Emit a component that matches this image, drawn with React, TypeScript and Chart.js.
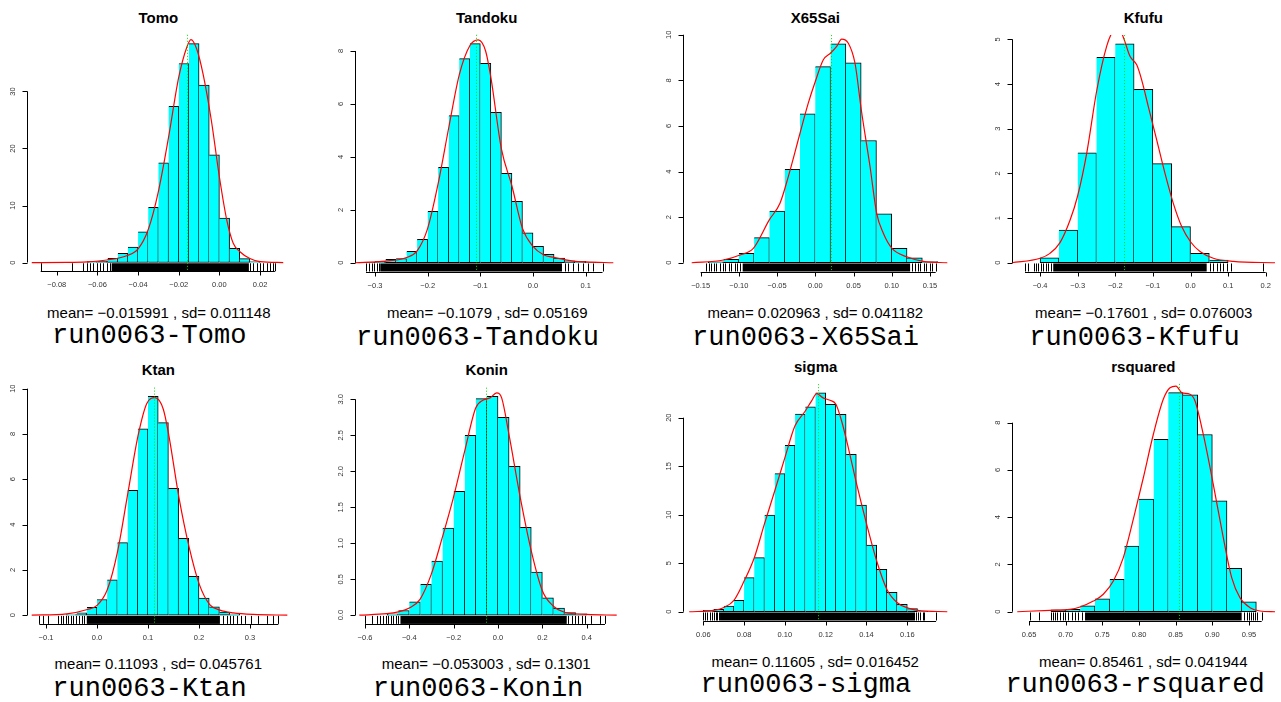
import React, { useEffect, useRef } from 'react';
import { Chart, registerables } from 'chart.js';

Chart.register(...registerables);

// ---------------- Tomo ----------------
const tomoBreaks = [-0.065, -0.06, -0.055, -0.05, -0.045, -0.04, -0.035, -0.03, -0.025, -0.02, -0.015, -0.01, -0.005, 0, 0.005, 0.01, 0.015, 0.02];
const tomoDensity = [0.15, 0.2, 0.75, 1.6, 2.7, 5.4, 9.7, 17.5, 27.4, 34.9, 38.4, 31.1, 18.9, 7.8, 2.5, 0.7, 0.15];
const tomoKdeX = [-0.0923, -0.075, -0.065, -0.0554, -0.0456, -0.04, -0.035, -0.03, -0.025, -0.02, -0.016, -0.014, -0.0112, -0.008, -0.004, 0, 0.0036, 0.0068, 0.0101, 0.015, 0.02, 0.0314];
const tomoKdeY = [0, 0.02, 0.12, 0.45, 1.2, 2.4, 5.8, 12.5, 22, 32.5, 37.8, 39.1, 37.5, 33, 25, 15, 7.5, 3.4, 1.9, 0.7, 0.15, 0];
const tomoRugDense = [-0.053, 0.0145];
const tomoRugTicks = [-0.0879, -0.0727, -0.0669, -0.0653, -0.0636, -0.062, -0.0604, -0.0587, -0.0571, -0.0554, -0.0538, 0.0151, 0.0167, 0.0183, 0.0199, 0.0216, 0.0236, 0.0249, 0.0265, 0.0273];
const tomoXTicks = [-0.08, -0.06, -0.04, -0.02, 0, 0.02];
const tomoXLabels = ['−0.08', '−0.06', '−0.04', '−0.02', '0.00', '0.02'];
const tomoYTicks = [0, 10, 20, 30];
const tomoYLabels = ['0', '10', '20', '30'];
const tomoMean = -0.015991;
const tomoSd = 0.011148;

// ---------------- Tandoku ----------------
const tandokuBreaks = [-0.32, -0.3, -0.28, -0.26, -0.24, -0.22, -0.2, -0.18, -0.16, -0.14, -0.12, -0.1, -0.08, -0.06, -0.04, -0.02, 0, 0.02, 0.04, 0.06, 0.08, 0.1, 0.12];
const tandokuDensity = [0.02, 0.05, 0.13, 0.16, 0.43, 0.88, 1.94, 3.6, 5.56, 7.71, 8.28, 7.53, 5.68, 3.38, 2.32, 1.13, 0.62, 0.32, 0.18, 0.07, 0.05, 0.02];
const tandokuKdeX = [-0.338, -0.28, -0.24, -0.22, -0.2, -0.18, -0.16, -0.14, -0.12, -0.104, -0.09, -0.08, -0.06, -0.04, -0.02, 0, 0.02, 0.04, 0.06, 0.08, 0.1, 0.1525];
const tandokuKdeY = [0, 0.06, 0.2, 0.45, 1.3, 3.0, 5.1, 7.1, 8.2, 8.42, 8.0, 7.0, 4.3, 2.9, 1.3, 0.62, 0.3, 0.2, 0.12, 0.05, 0.03, 0];
const tandokuRugDense = [-0.29, 0.055];
const tandokuRugTicks = [-0.3171, -0.3108, -0.3063, -0.3019, -0.2968, -0.2918, 0.0608, 0.067, 0.0765, 0.086, 0.0955, 0.105, 0.1145, 0.132];
const tandokuXTicks = [-0.3, -0.2, -0.1, 0, 0.1];
const tandokuXLabels = ['−0.3', '−0.2', '−0.1', '0.0', '0.1'];
const tandokuYTicks = [0, 2, 4, 6, 8];
const tandokuYLabels = ['0', '2', '4', '6', '8'];
const tandokuMean = -0.1079;
const tandokuSd = 0.05169;

// ---------------- X65Sai ----------------
const x65Breaks = [-0.14, -0.12, -0.1, -0.08, -0.06, -0.04, -0.02, 0, 0.02, 0.04, 0.06, 0.08, 0.1, 0.12, 0.14, 0.16];
const x65Density = [0.04, 0.15, 0.41, 1.1, 2.27, 4.1, 6.53, 8.6, 9.6, 8.77, 5.36, 2.14, 0.63, 0.22, 0.05];
const x65KdeX = [-0.1617, -0.1203, -0.0985, -0.0811, -0.0602, -0.0462, -0.0353, -0.02, -0.0092, 0, 0.0105, 0.0201, 0.028, 0.0345, 0.0432, 0.0519, 0.0602, 0.0716, 0.0803, 0.089, 0.1003, 0.1196, 0.1413, 0.1727];
const x65KdeY = [0, 0.12, 0.34, 0.63, 1.88, 2.61, 3.78, 5.68, 7.0, 7.95, 8.9, 9.2, 9.49, 9.81, 9.63, 8.76, 6.7, 4.22, 2.17, 1.29, 0.63, 0.26, 0.06, 0];
const x65RugDense = [-0.095, 0.124];
const x65RugTicks = [-0.1434, -0.1392, -0.1368, -0.1321, -0.1297, -0.1243, -0.1207, -0.1181, -0.1135, -0.1098, -0.1052, -0.1019, -0.0984, 0.1268, 0.1302, 0.1339, 0.1371, 0.1418, 0.1446, 0.1497, 0.1528, 0.1575];
const x65XTicks = [-0.15, -0.1, -0.05, 0, 0.05, 0.1, 0.15];
const x65XLabels = ['−0.15', '−0.10', '−0.05', '0.00', '0.05', '0.10', '0.15'];
const x65YTicks = [0, 2, 4, 6, 8, 10];
const x65YLabels = ['0', '2', '4', '6', '8', '10'];
const x65Mean = 0.020963;
const x65Sd = 0.041182;

// ---------------- Kfufu ----------------
const kfufuBreaks = [-0.4, -0.35, -0.3, -0.25, -0.2, -0.15, -0.1, -0.05, 0, 0.05, 0.1];
const kfufuDensity = [0.11, 0.73, 2.46, 4.6, 4.9, 3.88, 2.22, 0.81, 0.21, 0.06];
const kfufuKdeX = [-0.4754, -0.4, -0.3736, -0.347, -0.3204, -0.3, -0.276, -0.2494, -0.2228, -0.205, -0.192, -0.1787, -0.1609, -0.143, -0.1297, -0.112, -0.0899, -0.0678, -0.0457, -0.0234, 0, 0.0253, 0.0607, 0.114, 0.2247];
const kfufuKdeY = [0, 0.1, 0.21, 0.45, 0.95, 1.5, 2.45, 3.85, 4.85, 5.2, 5.25, 5.05, 4.62, 4.43, 4.09, 3.49, 2.75, 2.0, 1.33, 0.81, 0.47, 0.25, 0.1, 0.03, 0];
const kfufuRugDense = [-0.365, 0.043];
const kfufuRugTicks = [-0.44, -0.431, -0.416, -0.411, -0.405, -0.398, -0.391, -0.384, -0.378, -0.372, 0.052, 0.061, 0.07, 0.078, 0.087, 0.096, 0.107, 0.194];
const kfufuXTicks = [-0.4, -0.3, -0.2, -0.1, 0, 0.1, 0.2];
const kfufuXLabels = ['−0.4', '−0.3', '−0.2', '−0.1', '0.0', '0.1', '0.2'];
const kfufuYTicks = [0, 1, 2, 3, 4, 5];
const kfufuYLabels = ['0', '1', '2', '3', '4', '5'];
const kfufuMean = -0.17601;
const kfufuSd = 0.076003;

// ---------------- Ktan ----------------
const ktanBreaks = [-0.06, -0.04, -0.02, 0, 0.02, 0.04, 0.06, 0.08, 0.1, 0.12, 0.14, 0.16, 0.18, 0.2, 0.22, 0.24, 0.26, 0.28];
const ktanDensity = [0.03, 0.1, 0.35, 0.69, 1.56, 3.2, 5.51, 8.23, 9.66, 8.5, 5.6, 3.39, 1.71, 0.75, 0.37, 0.13, 0.05];
const ktanKdeX = [-0.128, -0.0595, -0.019, 0.0007, 0.0203, 0.0405, 0.0601, 0.0804, 0.0974, 0.1137, 0.13, 0.1405, 0.1608, 0.181, 0.2006, 0.221, 0.2412, 0.2673, 0.3065, 0.3732];
const ktanKdeY = [0, 0.06, 0.25, 0.44, 1.13, 2.83, 5.33, 7.91, 9.33, 9.6, 9.09, 7.98, 5.18, 2.97, 1.36, 0.47, 0.22, 0.1, 0.03, 0];
const ktanRugDense = [-0.02, 0.241];
const ktanRugTicks = [-0.1131, -0.1065, -0.0955, -0.0759, -0.0712, -0.0661, -0.0608, -0.0563, -0.0516, -0.0465, -0.0412, -0.0359, -0.03, -0.0255, 0.2477, 0.2543, 0.2608, 0.2673, 0.2751, 0.2818, 0.2902, 0.3014, 0.3163, 0.3327, 0.3457, 0.3556];
const ktanXTicks = [-0.1, 0, 0.1, 0.2, 0.3];
const ktanXLabels = ['−0.1', '0.0', '0.1', '0.2', '0.3'];
const ktanYTicks = [0, 2, 4, 6, 8, 10];
const ktanYLabels = ['0', '2', '4', '6', '8', '10'];
const ktanMean = 0.11093;
const ktanSd = 0.045761;

// ---------------- Konin ----------------
const koninBreaks = [-0.5, -0.45, -0.4, -0.35, -0.3, -0.25, -0.2, -0.15, -0.1, -0.05, 0, 0.05, 0.1, 0.15, 0.2, 0.25, 0.3, 0.35, 0.4];
const koninDensity = [0.02, 0.065, 0.185, 0.43, 0.75, 1.21, 1.72, 2.5, 3.01, 3.04, 2.75, 2.07, 1.22, 0.6, 0.24, 0.1, 0.035, 0.02];
const koninKdeX = [-0.6256, -0.502, -0.4497, -0.4, -0.3518, -0.3008, -0.2512, -0.2015, -0.1503, -0.1006, -0.0662, -0.0361, -0.006, 0.0165, 0.0496, 0.1007, 0.1503, 0.2, 0.2496, 0.3, 0.4, 0.5354];
const koninKdeY = [0, 0.02, 0.046, 0.1, 0.22, 0.57, 1.08, 1.63, 2.28, 2.88, 2.99, 3.02, 3.09, 3.02, 2.51, 1.63, 0.89, 0.34, 0.125, 0.04, 0.01, 0];
const koninRugDense = [-0.44, 0.31];
const koninRugTicks = [-0.6, -0.5697, -0.5472, -0.5322, -0.5172, -0.5052, -0.4948, -0.4839, -0.4722, -0.4601, -0.4497, 0.3172, 0.3323, 0.3473, 0.3623, 0.3773, 0.3924, 0.418, 0.46, 0.4826];
const koninXTicks = [-0.6, -0.4, -0.2, 0, 0.2, 0.4];
const koninXLabels = ['−0.6', '−0.4', '−0.2', '0.0', '0.2', '0.4'];
const koninYTicks = [0, 0.5, 1, 1.5, 2, 2.5, 3];
const koninYLabels = ['0.0', '0.5', '1.0', '1.5', '2.0', '2.5', '3.0'];
const koninMean = -0.053003;
const koninSd = 0.1301;

// ---------------- sigma ----------------
const sigmaBreaks = [0.06, 0.065, 0.07, 0.075, 0.08, 0.085, 0.09, 0.095, 0.1, 0.105, 0.11, 0.115, 0.12, 0.125, 0.13, 0.135, 0.14, 0.145, 0.15, 0.155, 0.16, 0.165, 0.17];
const sigmaDensity = [0.14, 0.24, 0.59, 1.17, 3.51, 5.57, 9.97, 14.23, 17.15, 20.38, 21.13, 22.55, 21.38, 20.35, 16.23, 11.0, 6.88, 4.37, 2.0, 0.76, 0.32, 0.05];
const sigmaKdeX = [0.0531, 0.0649, 0.0698, 0.075, 0.08, 0.085, 0.0899, 0.095, 0.1, 0.1049, 0.11, 0.1131, 0.1156, 0.1185, 0.1221, 0.125, 0.1278, 0.1311, 0.135, 0.1401, 0.145, 0.15, 0.1551, 0.16, 0.1651, 0.1796];
const sigmaKdeY = [0, 0.14, 0.41, 1.17, 3.16, 5.57, 9.0, 12.44, 15.88, 19.14, 20.69, 21.73, 22.48, 22.07, 21.79, 21.38, 19.66, 16.9, 13.3, 9.0, 5.23, 2.3, 0.93, 0.41, 0.14, 0];
const sigmaRugDense = [0.0682, 0.1638];
const sigmaRugTicks = [0.06, 0.0608, 0.0617, 0.0633, 0.0641, 0.0652, 0.0662, 0.0669, 0.0675, 0.1643, 0.1654, 0.1662, 0.1675, 0.1682, 0.1741];
const sigmaXTicks = [0.06, 0.08, 0.1, 0.12, 0.14, 0.16];
const sigmaXLabels = ['0.06', '0.08', '0.10', '0.12', '0.14', '0.16'];
const sigmaYTicks = [0, 5, 10, 15, 20];
const sigmaYLabels = ['0', '5', '10', '15', '20'];
const sigmaMean = 0.11605;
const sigmaSd = 0.016452;

// ---------------- rsquared ----------------
const rsqBreaks = [0.68, 0.7, 0.72, 0.74, 0.76, 0.78, 0.8, 0.82, 0.84, 0.86, 0.88, 0.9, 0.92, 0.94, 0.96];
const rsqDensity = [0.085, 0.1, 0.25, 0.55, 1.37, 2.78, 4.77, 7.3, 9.27, 9.18, 7.5, 4.69, 1.84, 0.42];
const rsqKdeX = [0.634, 0.6786, 0.7059, 0.7195, 0.7377, 0.7513, 0.765, 0.7786, 0.7922, 0.8059, 0.8195, 0.8331, 0.8423, 0.8505, 0.8582, 0.8695, 0.8764, 0.8877, 0.9013, 0.915, 0.9264, 0.9377, 0.9514, 0.965, 0.9855];
const rsqKdeY = [0, 0.06, 0.1, 0.2, 0.45, 0.74, 1.3, 2.29, 3.91, 5.67, 7.5, 8.99, 9.48, 9.55, 9.27, 9.2, 8.92, 7.5, 5.39, 3.13, 1.44, 0.59, 0.17, 0.03, 0];
const rsqRugDense = [0.7264, 0.94];
const rsqRugTicks = [0.6514, 0.664, 0.6796, 0.6823, 0.6855, 0.6886, 0.6923, 0.6959, 0.6995, 0.7036, 0.7082, 0.7127, 0.7173, 0.7218, 0.9432, 0.9469, 0.9496, 0.9523, 0.955, 0.9582, 0.9613, 0.9673];
const rsqXTicks = [0.65, 0.7, 0.75, 0.8, 0.85, 0.9, 0.95];
const rsqXLabels = ['0.65', '0.70', '0.75', '0.80', '0.85', '0.90', '0.95'];
const rsqYTicks = [0, 2, 4, 6, 8];
const rsqYLabels = ['0', '2', '4', '6', '8'];
const rsqMean = 0.85461;
const rsqSd = 0.041944;

const RUN_PREFIX = 'run0063-';

type Panel = {
  name: string;
  breaks: number[];
  dens: number[];
  kdeX: number[];
  kdeY: number[];
  rugDense: number[];
  rugTicks: number[];
  xTicks: number[];
  xLabels: string[];
  yTicks: number[];
  yLabels: string[];
  mean: number;
  sd: number;
  axisX: number;
  top: number;
  bottom: number;
  xMin: number;
  xMax: number;
  titleX: number;
  titleY: number;
  meanX: number;
  meanY: number;
  runX: number;
  runY: number;
};

const PANELS: Panel[] = [
  { name: 'Tomo', breaks: tomoBreaks, dens: tomoDensity, kdeX: tomoKdeX, kdeY: tomoKdeY, rugDense: tomoRugDense, rugTicks: tomoRugTicks, xTicks: tomoXTicks, xLabels: tomoXLabels, yTicks: tomoYTicks, yLabels: tomoYLabels, mean: tomoMean, sd: tomoSd,
    axisX: 26.7, top: 34.8, bottom: 271.3, xMin: -0.09479, xMax: 0.04048, titleX: 158.3, titleY: 16.7, meanX: 158.8, meanY: 311.7, runX: 149.2, runY: 336 },
  { name: 'Tandoku', breaks: tandokuBreaks, dens: tandokuDensity, kdeX: tandokuKdeX, kdeY: tandokuKdeY, rugDense: tandokuRugDense, rugTicks: tandokuRugTicks, xTicks: tandokuXTicks, xLabels: tandokuXLabels, yTicks: tandokuYTicks, yLabels: tandokuYLabels, mean: tandokuMean, sd: tandokuSd,
    axisX: 355, top: 34.8, bottom: 271.5, xMin: -0.33795, xMax: 0.18417, titleX: 486.7, titleY: 16.7, meanX: 487.2, meanY: 311.7, runX: 477.5, runY: 337.5 },
  { name: 'X65Sai', breaks: x65Breaks, dens: x65Density, kdeX: x65KdeX, kdeY: x65KdeY, rugDense: x65RugDense, rugTicks: x65RugTicks, xTicks: x65XTicks, xLabels: x65XLabels, yTicks: x65YTicks, yLabels: x65YLabels, mean: x65Mean, sd: x65Sd,
    axisX: 682.7, top: 35.1, bottom: 271.5, xMin: -0.17347, xMax: 0.18629, titleX: 815.3, titleY: 16.7, meanX: 815.3, meanY: 311.7, runX: 805.5, runY: 337.5 },
  { name: 'Kfufu', breaks: kfufuBreaks, dens: kfufuDensity, kdeX: kfufuKdeX, kdeY: kfufuKdeY, rugDense: kfufuRugDense, rugTicks: kfufuRugTicks, xTicks: kfufuXTicks, xLabels: kfufuXLabels, yTicks: kfufuYTicks, yLabels: kfufuYLabels, mean: kfufuMean, sd: kfufuSd,
    axisX: 1011.7, top: 35.1, bottom: 271.5, xMin: -0.47541, xMax: 0.25578, titleX: 1143.3, titleY: 16.7, meanX: 1143.7, meanY: 311.7, runX: 1134.5, runY: 337.5 },
  { name: 'Ktan', breaks: ktanBreaks, dens: ktanDensity, kdeX: ktanKdeX, kdeY: ktanKdeY, rugDense: ktanRugDense, rugTicks: ktanRugTicks, xTicks: ktanXTicks, xLabels: ktanXLabels, yTicks: ktanYTicks, yLabels: ktanYLabels, mean: ktanMean, sd: ktanSd,
    axisX: 26.7, top: 387.6, bottom: 623.9, xMin: -0.13784, xMax: 0.40137, titleX: 158.3, titleY: 369.3, meanX: 158.3, meanY: 662.7, runX: 149.5, runY: 688.5 },
  { name: 'Konin', breaks: koninBreaks, dens: koninDensity, kdeX: koninKdeX, kdeY: koninKdeY, rugDense: koninRugDense, rugTicks: koninRugTicks, xTicks: koninXTicks, xLabels: koninXLabels, yTicks: koninYTicks, yLabels: koninYLabels, mean: koninMean, sd: koninSd,
    axisX: 355, top: 387.7, bottom: 623.9, xMin: -0.64501, xMax: 0.5954, titleX: 486.7, titleY: 369.3, meanX: 486.2, meanY: 662.7, runX: 478, runY: 688.5 },
  { name: 'sigma', breaks: sigmaBreaks, dens: sigmaDensity, kdeX: sigmaKdeX, kdeY: sigmaKdeY, rugDense: sigmaRugDense, rugTicks: sigmaRugTicks, xTicks: sigmaXTicks, xLabels: sigmaXLabels, yTicks: sigmaYTicks, yLabels: sigmaYLabels, mean: sigmaMean, sd: sigmaSd,
    axisX: 683.3, top: 384.2, bottom: 620.5, xMin: 0.0502, xMax: 0.185, titleX: 815.7, titleY: 366, meanX: 815.2, meanY: 661, runX: 805.8, runY: 685 },
  { name: 'rsquared', breaks: rsqBreaks, dens: rsqDensity, kdeX: rsqKdeX, kdeY: rsqKdeY, rugDense: rsqRugDense, rugTicks: rsqRugTicks, xTicks: rsqXTicks, xLabels: rsqXLabels, yTicks: rsqYTicks, yLabels: rsqYLabels, mean: rsqMean, sd: rsqSd,
    axisX: 1011.7, top: 383.9, bottom: 620.5, xMin: 0.6264, xMax: 1.00142, titleX: 1143.3, titleY: 366, meanX: 1143.3, meanY: 661, runX: 1135, runY: 685 },
];

const PLOT_W = 275;
const AXIS_FONT = '7.5px "Liberation Sans", Arial, sans-serif';

function makeDecor(p: Panel) {
  return {
    id: 'rDecor',
    afterDatasetsDraw(chart: any) {
      const { ctx, chartArea: a, scales } = chart;
      const xs = scales.x;
      const ys = scales.y;
      const h = a.bottom - a.top;
      const rugTop = a.bottom - 0.034 * h;
      ctx.save();
      // rug: dense band + individual ticks
      ctx.fillStyle = '#000';
      const d0 = xs.getPixelForValue(p.rugDense[0]);
      const d1 = xs.getPixelForValue(p.rugDense[1]);
      ctx.fillRect(d0, rugTop, d1 - d0, a.bottom - rugTop);
      ctx.strokeStyle = '#000';
      ctx.lineWidth = 1;
      ctx.beginPath();
      for (const v of p.rugTicks) {
        const x = Math.round(xs.getPixelForValue(v)) + 0.5;
        ctx.moveTo(x, rugTop);
        ctx.lineTo(x, a.bottom);
      }
      ctx.stroke();
      // bottom axis line (span of rug and ticks)
      const tickVals = xs.ticks.map((t: any) => t.value);
      const all = [...p.rugTicks, ...p.rugDense, ...tickVals];
      const lo = Math.min(...all);
      const hi = Math.max(...all);
      const yb = Math.round(a.bottom) + 0.5;
      ctx.beginPath();
      ctx.moveTo(xs.getPixelForValue(lo), yb);
      ctx.lineTo(xs.getPixelForValue(hi), yb);
      for (const v of tickVals) {
        const x = Math.round(xs.getPixelForValue(v)) + 0.5;
        ctx.moveTo(x, yb);
        ctx.lineTo(x, yb + 4);
      }
      ctx.stroke();
      ctx.fillStyle = '#333';
      ctx.font = AXIS_FONT;
      ctx.textAlign = 'center';
      ctx.textBaseline = 'middle';
      tickVals.forEach((v: number, i: number) => {
        ctx.fillText(p.xLabels[i], xs.getPixelForValue(v), a.bottom + 14);
      });
      // y axis
      const ax = Math.round(a.left) + 0.5;
      const yt = ys.ticks.map((t: any) => t.value);
      ctx.beginPath();
      ctx.moveTo(ax, ys.getPixelForValue(yt[0]));
      ctx.lineTo(ax, ys.getPixelForValue(yt[yt.length - 1]));
      for (const v of yt) {
        const y = Math.round(ys.getPixelForValue(v)) + 0.5;
        ctx.moveTo(ax - 5, y);
        ctx.lineTo(ax, y);
      }
      ctx.stroke();
      yt.forEach((v: number, i: number) => {
        ctx.save();
        ctx.translate(a.left - 14, ys.getPixelForValue(v));
        ctx.rotate(-Math.PI / 2);
        ctx.fillText(p.yLabels[i], 0, 0);
        ctx.restore();
      });
      // mean line
      ctx.strokeStyle = '#00e000';
      ctx.setLineDash([1, 2]);
      const mx = Math.round(xs.getPixelForValue(p.mean)) + 0.5;
      ctx.beginPath();
      ctx.moveTo(mx, a.top);
      ctx.lineTo(mx, a.bottom);
      ctx.stroke();
      ctx.restore();
    },
  };
}

function HistPanel({ p }: { p: Panel }) {
  const ref = useRef<HTMLCanvasElement>(null);
  const cl = Math.floor(p.axisX) - 32;
  const ct = Math.floor(p.top) - 6;
  const W = 316;
  const H = Math.ceil(p.bottom) - ct + 30;
  useEffect(() => {
    const canvas = ref.current;
    if (!canvas) return;
    const centers = p.breaks.slice(0, -1).map((b, i) => (b + p.breaks[i + 1]) / 2);
    const bars = centers.map((x, i) => ({ x, y: p.dens[i] }));
    const kde = p.kdeX.map((x, i) => ({ x, y: p.kdeY[i] }));
    const M = Math.max(...p.dens);
    const padLeft = p.axisX - cl;
    const padTop = p.top - ct;
    const chart = new Chart(canvas, {
      type: 'bar',
      data: {
        datasets: [
          {
            type: 'line',
            data: kde,
            borderColor: '#ff0000',
            borderWidth: 1.2,
            pointRadius: 0,
            cubicInterpolationMode: 'monotone',
            fill: false,
            order: 0,
          } as any,
          {
            type: 'bar',
            data: bars,
            backgroundColor: '#00ffff',
            borderColor: '#000000',
            borderWidth: 1,
            borderSkipped: (c: any) => (c.dataIndex === 0 ? false : 'left'),
            barPercentage: 1,
            categoryPercentage: 1,
            grouped: false,
            order: 1,
          } as any,
        ],
      },
      options: {
        animation: false,
        responsive: false,
        devicePixelRatio: 1,
        events: [],
        layout: {
          padding: {
            left: padLeft,
            top: padTop,
            right: W - padLeft - PLOT_W,
            bottom: H - (p.bottom - ct),
          },
        },
        scales: {
          x: {
            type: 'linear',
            min: p.xMin,
            max: p.xMax,
            offset: false,
            display: false,
            afterBuildTicks: (s: any) => {
              s.ticks = p.xTicks.map((v) => ({ value: v }));
            },
          },
          y: {
            type: 'linear',
            min: -0.04 * M,
            max: 1.04 * M,
            display: false,
            afterBuildTicks: (s: any) => {
              s.ticks = p.yTicks.map((v) => ({ value: v }));
            },
          },
        },
        plugins: {
          legend: { display: false },
          tooltip: { enabled: false },
          title: { display: false },
        },
      } as any,
      plugins: [makeDecor(p)],
    });
    return () => chart.destroy();
  }, [p]);
  return (
    <canvas
      ref={ref}
      width={W}
      height={H}
      style={{ position: 'absolute', left: cl, top: ct, width: W, height: H }}
    />
  );
}

const fmt = (v: number) => String(v).replace('-', '−');

function label(x: number, y: number, font: string, text: string) {
  return (
    <div
      style={{
        position: 'absolute',
        left: x,
        top: y,
        transform: 'translate(-50%, -50%)',
        whiteSpace: 'nowrap',
        lineHeight: 1,
        font,
        color: '#000',
      }}
    >
      {text}
    </div>
  );
}

export default function App() {
  return (
    <div
      style={{
        position: 'absolute',
        left: 0,
        top: 0,
        width: 1281,
        height: 702,
        overflow: 'hidden',
        background: '#ffffff',
      }}
    >
      {PANELS.map((p) => (
        <React.Fragment key={p.name}>
          <HistPanel p={p} />
          {label(p.titleX, p.titleY, 'bold 15px "Liberation Sans", Arial, sans-serif', p.name)}
          {label(p.meanX, p.meanY, '15px "Liberation Sans", Arial, sans-serif', `mean= ${fmt(p.mean)} , sd= ${fmt(p.sd)}`)}
          {label(p.runX, p.runY, '27px "Liberation Mono", "Courier New", monospace', RUN_PREFIX + p.name)}
        </React.Fragment>
      ))}
    </div>
  );
}
